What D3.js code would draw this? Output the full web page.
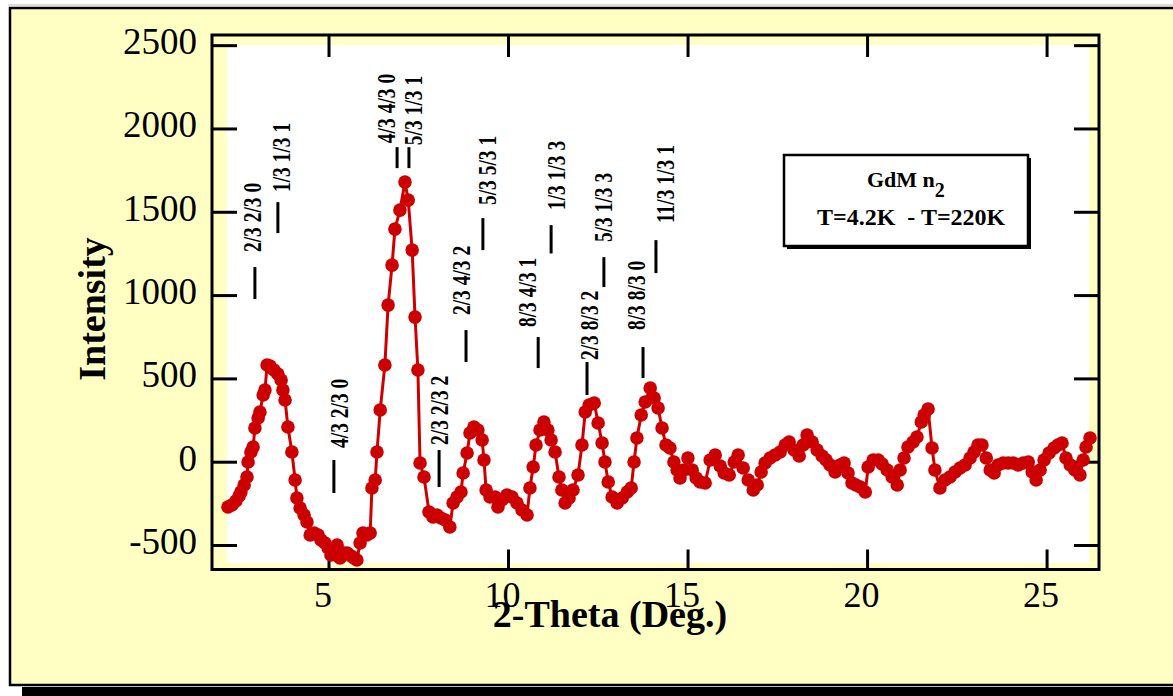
<!DOCTYPE html>
<html>
<head>
<meta charset="utf-8">
<script src="https://cdn.jsdelivr.net/npm/d3@7"></script>
<style>
  html, body { margin: 0; padding: 0; background: #ffffff; }
  svg { display: block; }
  text { font-family: "Liberation Serif", "Times New Roman", serif; }
</style>
</head>
<body>
<svg id="chart" width="1173" height="696"></svg>
<script>
// Neutron diffraction pattern, difference 4.2 K - 220 K, GdMn2
const twoTheta = [
  2.20, 2.31, 2.42, 2.51, 2.56, 2.65, 2.73, 2.76, 2.84, 2.90,
  2.95, 3.04, 3.09, 3.18, 3.23, 3.29, 3.37, 3.48, 3.59, 3.68,
  3.73, 3.79, 3.87, 3.98, 4.07, 4.12, 4.21, 4.32, 4.40, 4.49,
  4.60, 4.71, 4.79, 4.90, 4.99, 5.07, 5.15, 5.24, 5.32, 5.43,
  5.52, 5.63, 5.71, 5.79, 5.88, 5.96, 6.07, 6.16, 6.21, 6.30,
  6.35, 6.44, 6.57, 6.66, 6.77, 6.85, 6.99, 7.13, 7.22, 7.33,
  7.41, 7.49, 7.55, 7.66, 7.80, 7.91, 8.02, 8.13, 8.25, 8.38,
  8.47, 8.58, 8.69, 8.75, 8.86, 8.94, 9.05, 9.16, 9.28, 9.33,
  9.39, 9.50, 9.64, 9.72, 9.83, 9.97, 10.11, 10.25, 10.39, 10.53,
  10.61, 10.70, 10.78, 10.89, 11.00, 11.11, 11.20, 11.31, 11.42, 11.50,
  11.59, 11.70, 11.81, 11.95, 12.06, 12.15, 12.26, 12.40, 12.51, 12.62,
  12.70, 12.79, 12.90, 13.04, 13.18, 13.32, 13.43, 13.51, 13.59, 13.71,
  13.82, 13.96, 14.07, 14.18, 14.29, 14.40, 14.51, 14.62, 14.71, 14.79,
  14.90, 15.01, 15.13, 15.24, 15.35, 15.49, 15.63, 15.77, 15.91, 16.02,
  16.16, 16.30, 16.41, 16.55, 16.69, 16.83, 16.94, 17.05, 17.16, 17.30,
  17.44, 17.58, 17.72, 17.83, 17.97, 18.11, 18.22, 18.33, 18.47, 18.61,
  18.75, 18.86, 18.97, 19.11, 19.25, 19.36, 19.47, 19.58, 19.69, 19.81,
  19.95, 20.03, 20.17, 20.31, 20.42, 20.56, 20.70, 20.84, 20.92, 21.03,
  21.14, 21.28, 21.39, 21.51, 21.59, 21.70, 21.81, 21.89, 22.03, 22.17,
  22.31, 22.45, 22.59, 22.73, 22.87, 22.98, 23.09, 23.20, 23.32, 23.43,
  23.54, 23.65, 23.79, 23.93, 24.07, 24.21, 24.35, 24.49, 24.60, 24.71,
  24.82, 24.93, 25.07, 25.21, 25.32, 25.43, 25.54, 25.66, 25.79, 25.93,
  26.02, 26.10, 26.21
];

const intensity = [
  -272, -260, -236, -206, -182, -140, -92, -2, 58, 88,
  202, 262, 298, 400, 430, 580, 574, 550, 526, 490,
  430, 370, 208, 58, -110, -218, -278, -320, -362, -440,
  -428, -440, -470, -488, -518, -560, -518, -500, -578, -548,
  -548, -566, -578, -590, -488, -428, -440, -428, -158, -110,
  58, 310, 580, 940, 1180, 1396, 1510, 1678, 1570, 1270,
  868, 550, -8, -92, -302, -332, -320, -338, -350, -392,
  -248, -212, -182, -68, 52, 172, 208, 190, 130, 10,
  -170, -212, -212, -272, -230, -200, -212, -248, -290, -320,
  -158, -32, 100, 190, 238, 190, 130, 58, -92, -170,
  -248, -218, -170, -80, 100, 298, 340, 352, 232, 112,
  -2, -122, -212, -248, -218, -182, -158, -2, 142, 280,
  358, 442, 382, 322, 202, 100, 82, -2, -50, -98,
  -50, 22, -50, -98, -122, -128, 10, 40, -26, -68,
  -80, -2, 40, -38, -110, -170, -140, -62, -8, 22,
  40, 58, 100, 118, 70, 34, 100, 160, 118, 70,
  34, 10, -20, -62, -20, -8, -68, -128, -140, -152,
  -182, -32, 10, 10, -14, -50, -92, -140, -50, 22,
  88, 118, 148, 238, 280, 316, 82, -50, -158, -110,
  -92, -62, -38, -20, 22, 58, 100, 100, 22, -50,
  -68, -20, -8, -8, -8, -20, -8, -2, -62, -110,
  -50, 10, 52, 82, 100, 112, 22, -20, -50, -80,
  10, 88, 142
];

const xTickValues = [5, 10, 15, 20, 25];
const yTickValues = [-500, 0, 500, 1000, 1500, 2000, 2500];

// Indexed magnetic reflections: position and vertical extent of each marker
const reflectionLabels = [
  "2/3 2/3 0", "1/3 1/3 1", "4/3 4/3 0", "5/3 1/3 1", "4/3 2/3 0",
  "2/3 2/3 2", "2/3 4/3 2", "5/3 5/3 1", "8/3 4/3 1", "1/3 1/3 3",
  "2/3 8/3 2", "5/3 1/3 3", "8/3 8/3 0", "11/3 1/3 1"
];
const reflectionAngle = [2.95, 3.59, 6.91, 7.24, 5.15, 8.08, 8.83, 9.30, 10.84, 11.20, 12.20, 12.67, 13.76, 14.12];
const markLow  = [976, 1372, 1762, 1762, -188, -152, 598, 1270, 562, 1250, 400, 1048, 502, 1132];
const markHigh = [1168, 1558, 1888, 1888, 10, 70, 790, 1462, 748, 1420, 598, 1228, 688, 1330];

// label placement relative to the marker: [horizontal shift, gap above marker] in px
const labelNudge = [
  [-3, 15], [3.5, 10], [-11, 4], [4, 2], [5.5, 12], [0, 5], [-5.5, 15],
  [4, 13], [-11.5, 10], [4.5, 15], [2, 2], [-1, 15], [-7.5, 17], [9, 17]
];

const svg = d3.select("#chart");
const W = 1173, H = 696;
const paper = "#FFFFC4";
const red = "#CC0000";

// page background and framed card with drop shadow
svg.append("rect").attr("x", 0).attr("y", 0).attr("width", W).attr("height", H).attr("fill", "#ffffff");
svg.append("line").attr("x1", 8).attr("x2", W).attr("y1", 5).attr("y2", 5).attr("stroke", "#b8b8b8").attr("stroke-width", 1);
svg.append("rect").attr("x", 22).attr("y", 687).attr("width", W).attr("height", 12).attr("fill", "#000");
svg.append("rect").attr("x", 10).attr("y", 8).attr("width", W + 10).attr("height", 677)
  .attr("fill", paper).attr("stroke", "#000").attr("stroke-width", 2.5);

const plotLeft = 212, plotRight = 1099, plotTop = 35, plotBottom = 569.5;

const x = d3.scaleLinear().domain([1.755, 26.46]).range([plotLeft, plotRight]);
const y = d3.scaleLinear().domain([-647, 2561]).range([plotBottom, plotTop]);

// white plotting field
svg.append("rect").attr("x", 227).attr("y", 45).attr("width", 1089 - 227).attr("height", 563 - 45).attr("fill", "#ffffff");

// axes: ticks point inward on all four sides
const axisStyle = g => {
  g.select(".domain").remove();
  g.selectAll(".tick line").attr("stroke", "#000").attr("stroke-width", 3);
};
const plainNumber = d => String(d);

svg.append("g").attr("transform", `translate(${plotLeft},0)`)
  .call(d3.axisLeft(y).tickValues(yTickValues).tickSizeInner(-25).tickSizeOuter(0).tickPadding(15).tickFormat(plainNumber))
  .call(axisStyle)
  .call(g => g.selectAll(".tick text").attr("dy", 8.5).attr("fill", "#000")
    .style("font-family", "'Liberation Serif', serif").style("font-size", "37px"));

svg.append("g").attr("transform", `translate(${plotRight},0)`)
  .call(d3.axisRight(y).tickValues(yTickValues).tickSizeInner(-25).tickSizeOuter(0).tickFormat(""))
  .call(axisStyle);

svg.append("g").attr("transform", `translate(0,${plotBottom})`)
  .call(d3.axisBottom(x).tickValues(xTickValues).tickSizeInner(-20).tickSizeOuter(0).tickFormat(plainNumber))
  .call(axisStyle)
  .call(g => g.selectAll(".tick text").attr("y", 0).attr("dy", 37.5).attr("dx", -6).attr("fill", "#000")
    .style("font-family", "'Liberation Serif', serif").style("font-size", "36px"));

svg.append("g").attr("transform", `translate(0,${plotTop})`)
  .call(d3.axisTop(x).tickValues(xTickValues).tickSizeInner(-22).tickSizeOuter(0).tickFormat(""))
  .call(axisStyle);

// frame
svg.append("rect").attr("x", plotLeft).attr("y", plotTop).attr("width", plotRight - plotLeft).attr("height", plotBottom - plotTop)
  .attr("fill", "none").attr("stroke", "#000").attr("stroke-width", 3);

// axis titles
svg.append("text").attr("x", 610).attr("y", 627).attr("text-anchor", "middle")
  .attr("font-weight", "bold").attr("font-size", 38).attr("fill", "#000").text("2-Theta (Deg.)");
svg.append("text").attr("transform", "translate(105,309) rotate(-90)").attr("text-anchor", "middle")
  .attr("font-weight", "bold").attr("font-size", 38).attr("fill", "#000").text("Intensity");

// reflection markers and labels
const refl = reflectionLabels.map((label, i) => ({
  label, angle: reflectionAngle[i], lo: markLow[i], hi: markHigh[i], nudge: labelNudge[i]
}));

svg.append("g").selectAll("line").data(refl).join("line")
  .attr("x1", d => x(d.angle)).attr("x2", d => x(d.angle))
  .attr("y1", d => y(d.lo)).attr("y2", d => y(d.hi))
  .attr("stroke", "#000").attr("stroke-width", 3);

svg.append("g").selectAll("text").data(refl).join("text")
  .attr("transform", d => `translate(${x(d.angle) + d.nudge[0] + 9},${y(d.hi) - d.nudge[1]}) rotate(-90) scale(1,1.3)`)
  .attr("text-anchor", "start").attr("font-weight", "bold").attr("font-size", 19.5).attr("fill", "#000")
  .text(d => d.label);

// measured pattern
const pts = twoTheta.map((t, i) => [t, intensity[i]]);
svg.append("path").datum(pts)
  .attr("d", d3.line().x(d => x(d[0])).y(d => y(d[1])))
  .attr("fill", "none").attr("stroke", red).attr("stroke-width", 3).attr("stroke-linejoin", "round");
svg.append("g").selectAll("circle").data(pts).join("circle")
  .attr("cx", d => x(d[0])).attr("cy", d => y(d[1])).attr("r", 6.8).attr("fill", red);

// sample / temperature box
const box = svg.append("g");
box.append("rect").attr("x", 787).attr("y", 158).attr("width", 244).attr("height", 91).attr("fill", "#000");
box.append("rect").attr("x", 784).attr("y", 155).attr("width", 244).attr("height", 91)
  .attr("fill", "#ffffff").attr("stroke", "#000").attr("stroke-width", 2.5);
const t1 = box.append("text").attr("x", 867).attr("y", 187).attr("font-weight", "bold").attr("font-size", 22).attr("fill", "#000");
t1.append("tspan").text("GdM n");
t1.append("tspan").attr("dy", 10).attr("font-size", 20).text("2");
box.append("text").attr("x", 817).attr("y", 225).attr("font-weight", "bold").attr("font-size", 24).attr("fill", "#000")
  .attr("xml:space", "preserve").style("white-space", "pre").text("T=4.2K  - T=220K");
</script>
</body>
</html>
